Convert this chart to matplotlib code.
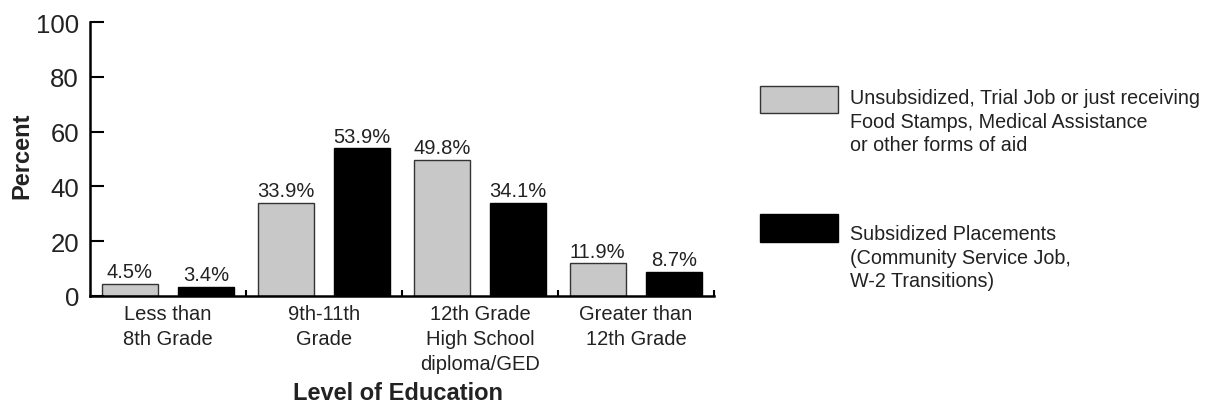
import numpy as np
import matplotlib.pyplot as plt
from matplotlib.patches import Rectangle

plt.rcParams['font.family'] = ['Liberation Sans', 'DejaVu Sans']

# -----------------------------
# Data
# -----------------------------
categories = ["Less than\n8th Grade", "9th-11th\nGrade",
              "12th Grade\nHigh School\ndiploma/GED", "Greater than\n12th Grade"]
unsubsidized = [4.5, 33.9, 49.8, 11.9]
subsidized = [3.4, 53.9, 34.1, 8.7]
yticks = [0, 20, 40, 60, 80, 100]

legend_labels = [
    "Unsubsidized, Trial Job or just receiving\nFood Stamps, Medical Assistance\nor other forms of aid",
    "Subsidized Placements\n(Community Service Job,\nW-2 Transitions)",
]

W, H = 1211, 406
TEXT = "#222222"
GRAY = "#c8c8c8"

fig = plt.figure(figsize=(W / 100, H / 100), dpi=100)
ax = fig.add_axes([90 / W, (H - 297) / H, (714 - 90) / W, (297 - 23) / H])

x = np.arange(len(categories))
bw = 0.36
off = 0.245

b1 = ax.bar(x - off, unsubsidized, bw, color=GRAY, edgecolor="#333333", linewidth=1.0)
b2 = ax.bar(x + off, subsidized, bw, color="black", edgecolor="black", linewidth=1.0)

ax.bar_label(b1, fmt="%.1f%%", padding=2, fontsize=14.5, color=TEXT)
ax.bar_label(b2, fmt="%.1f%%", padding=2, fontsize=14.5, color=TEXT)

ax.set_xlim(-0.5, 3.5)
ax.set_ylim(0, 100)

# axes styling
for s in ["top", "right"]:
    ax.spines[s].set_visible(False)
ax.spines["left"].set_linewidth(1.8)
ax.spines["bottom"].set_linewidth(1.8)

ax.set_yticks(yticks)
ax.tick_params(axis="y", direction="in", length=10, width=1.5, pad=8,
               labelsize=18.5, labelcolor=TEXT)

ax.set_xticks(x)
ax.set_xticklabels(categories, linespacing=1.38)
ax.tick_params(axis="x", which="major", length=0, pad=6, labelsize=14.5, labelcolor=TEXT)
ax.set_xticks([0.5, 1.5, 2.5, 3.5], minor=True)
ax.tick_params(axis="x", which="minor", direction="in", length=4.5, width=1.5)

# axis titles
fig.text(22 / W, 1 - 156 / H, "Percent", rotation=90, ha="center", va="center",
         fontsize=17, fontweight="bold", color=TEXT)
fig.text(398 / W, 1 - 405 / H, "Level of Education", ha="center", va="bottom",
         fontsize=17, fontweight="bold", color=TEXT)

# legend
fig.add_artist(Rectangle((760 / W, 1 - 114 / H), 78 / W, 27 / H, transform=fig.transFigure,
                         facecolor=GRAY, edgecolor="#333333", linewidth=1.0))
fig.add_artist(Rectangle((760 / W, 1 - 243 / H), 78 / W, 28 / H, transform=fig.transFigure,
                         facecolor="black", edgecolor="black", linewidth=1.0))
fig.text(850 / W, 1 - 89 / H, legend_labels[0], ha="left", va="top",
         fontsize=14.2, linespacing=1.3, color=TEXT)
fig.text(850 / W, 1 - 225 / H, legend_labels[1], ha="left", va="top",
         fontsize=14.2, linespacing=1.3, color=TEXT)

fig.savefig("out.png", dpi=100)
